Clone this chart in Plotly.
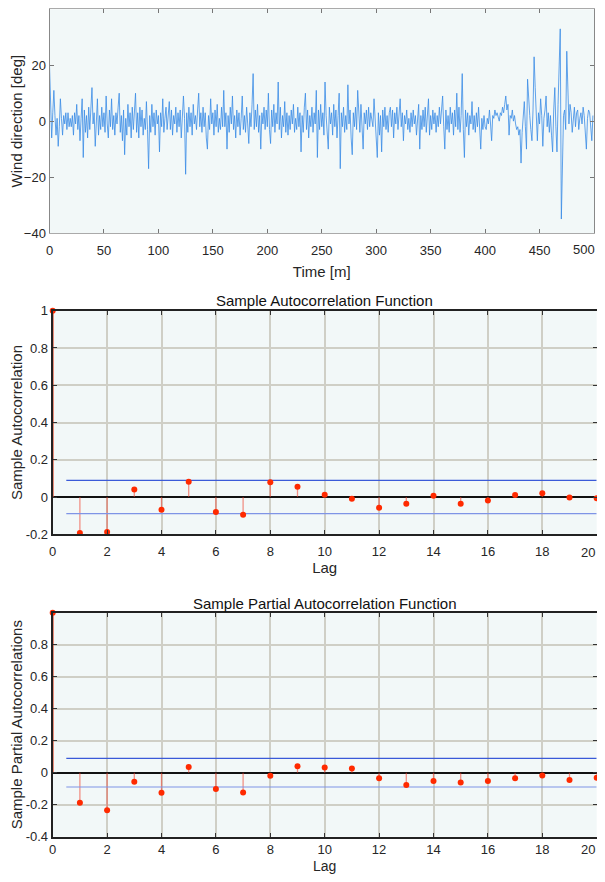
import plotly.graph_objects as go

# ---------------- data ----------------
wind_dir = [
    20, 4, -6, 3, 11, 2, -5, 1, -9, -2,
    8, 1, -5, 2, -1, 3, -3, 3, -2, 1,
    -2, 2, -5, 3, -1, 6, -3, 2, -7, 1,
    8, -13, 4, -4, 2, -6, 5, -3, 3, 12,
    -1, 3, -9, 1, 8, -5, 2, -3, 5, -2,
    3, -4, 9, -1, -6, 4, -2, 8, -3, 2,
    -5, 3, -1, 5, 10, -4, 2, -7, 4, -12,
    1, -5, 6, -2, 3, -6, 5, -3, 2, 10,
    -4, 3, -6, 5, -2, 4, -5, 1, -3, 7,
    -3, -17, 2, -4, 6, -2, 3, -5, 4, -1,
    2, -11, 3, -2, 8, -4, 1, 5, -3, 2,
    7, -3, 4, -5, 2, -1, 5, -4, 3, -2,
    4, -6, 2, 9, 1, -19, 3, -4, 5, -2,
    3, -5, 6, -1, 2, -3, 4, 10, -2, 3,
    -4, 5, -2, 3, -6, -10, 2, -3, 8, -1,
    3, -5, 4, -2, 6, -4, 1, -3, 5, -2,
    11, -2, 3, -10, 2, -4, 5, -1, 9, -3,
    2, -6, 4, -2, 3, -5, 1, 9, -3, 2,
    -4, 5, -1, -8, 3, -2, 6, 17, -3, 4,
    -2, 6, -4, 2, -10, 3, -1, 5, -3, 4,
    -2, 10, -3, -8, 4, -2, 6, -4, 3, -1,
    14, -3, 5, -6, 2, -2, 7, -4, 3, -5,
    2, -3, 4, -1, 6, -4, 1, -3, 5, -2,
    3, -11, 2, -4, 5, 10, -3, 4, -6, 2,
    -2, 5, -4, 3, -1, 11, -13, 4, -3, 6,
    -2, 3, -5, 14, 2, -4, -10, 5, -1, 3,
    -5, 6, -2, 4, -6, 2, 10, -17, 3, -2,
    5, -4, 2, -3, 13, -1, 4, -6, -12, 3,
    -2, 5, -3, 11, 2, -4, 6, -2, -10, 3,
    -1, 4, -3, 5, -2, 3, 1, -2, 8, 2,
    -4, -13, 3, -5, 2, -11, 4, -2, 5, -3,
    2, -4, 3, 5, -2, 4, -6, 3, -1, 5,
    -3, 4, 8, -2, 3, -7, 2, -1, 4, -3,
    1, -4, 3, -2, 4, -1, 2, -5, 3, 6,
    -10, 2, -3, 4, -2, 5, -4, 1, 8, -5,
    2, -3, 4, -1, 3, -4, 2, -2, 5, -1,
    3, 9, -2, -10, 4, -3, 2, -4, 5, -1,
    3, -5, 4, -2, 10, -3, 5, -4, 2, 17,
    -3, -13, 4, -2, 3, -5, 2, -1, 7, -3,
    2, -4, 3, -2, 5, -3, -10, 1, -3, 2,
    -2, -3, 1, -1, 4, -1, -7, 2, 1, 4,
    2, 3, 1, 0, 3, 2, 5, 3, 6, 9,
    4, 6, -5, 2, 1, 4, 0, 2, -1, -3,
    -2, -5, -3, -15, -4, 3, 7, -2, -10, 15,
    6, 2, -3, -7, 4, 23, 12, -2, -7, 3,
    -1, 8, 2, -9, 1, 4, 9, -2, 3, -4,
    2, -5, -11, 4, 12, -2, -11, 6, 18, 33,
    -35, -8, 2, 4, -3, 25, 9, -1, 6, 3,
    -4, 2, 5, -2, 3, 4, -3, 1, 3, -1,
    5, 2, -3, -10, 1, 4, 3, -2, -7, 2,
]
time_m = list(range(len(wind_dir)))

lags = list(range(21))
acf_vals = [1.0, -0.193, -0.188, 0.041, -0.068, 0.082, -0.080, -0.095, 0.079, 0.055,
            0.012, -0.009, -0.057, -0.036, 0.007, -0.036, -0.018, 0.011, 0.020, -0.002, -0.007]
pacf_vals = [1.0, -0.188, -0.235, -0.056, -0.125, 0.035, -0.102, -0.123, -0.019, 0.040,
             0.033, 0.027, -0.035, -0.077, -0.052, -0.062, -0.052, -0.035, -0.017, -0.046, -0.031]
conf_bound = 0.0894
bound_x = [0.5, 20]

top_xticks = [0, 50, 100, 150, 200, 250, 300, 350, 400, 450, 500]
top_xtext = ["0", "50", "100", "150", "200", "250", "300", "350", "400", "450", "500"]
top_yticks = [-40, -20, 0, 20, 40]
lag_ticks = [0, 2, 4, 6, 8, 10, 12, 14, 16, 18, 20]
lag_text = ["0", "2", "4", "6", "8", "10", "12", "14", "16", "18", "20"]
acf_yticks = [-0.2, 0, 0.2, 0.4, 0.6, 0.8, 1]
acf_ytext = ["-0.2", "0", "0.2", "0.4", "0.6", "0.8", "1"]
pacf_yticks = [-0.4, -0.2, 0, 0.2, 0.4, 0.6, 0.8]
pacf_ytext = ["-0.4", "-0.2", "0", "0.2", "0.4", "0.6", "0.8"]

# ---------------- figure ----------------
OFF = 8                      # page body margin offset
W, H = 605 - 2 * OFF, 882 - 2 * OFF
FONT = "Liberation Sans, Arial, sans-serif"
TXT = "#262626"
BG = "#f2f8f8"
GRID = "#cfcfc6"
RED = "#ff2a00"
STEM = "rgba(240,60,40,0.55)"
BLUE = "#3a5ad8"

fig = go.Figure()

# Top: time series
fig.add_trace(go.Scatter(x=time_m, y=wind_dir, mode="lines",
                         line=dict(color="#3a8ce6", width=0.8),
                         xaxis="x", yaxis="y", showlegend=False))

def add_stem(xa, ya, vals):
    sx, sy = [], []
    for l, v in zip(lags, vals):
        sx += [l, l, None]
        sy += [0, v, None]
    fig.add_trace(go.Scatter(x=sx, y=sy, mode="lines",
                             line=dict(color=STEM, width=1.3),
                             xaxis=xa, yaxis=ya, showlegend=False))
    fig.add_trace(go.Scatter(x=[lags[0], lags[0]], y=[0, vals[0]], mode="lines",
                             line=dict(color="#e04a2a", width=1.6),
                             cliponaxis=False,
                             xaxis=xa, yaxis=ya, showlegend=False))
    for b, col in [(conf_bound, BLUE), (-conf_bound, "#7f94e6")]:
        fig.add_trace(go.Scatter(x=bound_x, y=[b, b], mode="lines",
                                 line=dict(color=col, width=1.2),
                                 xaxis=xa, yaxis=ya, showlegend=False))
    fig.add_trace(go.Scatter(x=lags, y=vals, mode="markers",
                             marker=dict(color=RED, size=6),
                             cliponaxis=False,
                             xaxis=xa, yaxis=ya, showlegend=False))

add_stem("x2", "y2", acf_vals)
add_stem("x3", "y3", pacf_vals)

def px_x(p):
    return (p - OFF) / W

def px_y(p):
    return 1 - (p - OFF) / H

tickfont = dict(family=FONT, size=13, color=TXT)
titlefont = dict(family=FONT, size=15, color=TXT)

# last tick label of each x axis sits at the right page edge; draw it right-aligned
def edge_label(text, ypx):
    return dict(text=text, x=1.0, y=px_y(ypx), xref="paper", yref="paper",
                xanchor="right", yanchor="middle", showarrow=False,
                font=tickfont)

fig.update_layout(
    width=W, height=H,
    margin=dict(l=0, r=0, t=0, b=0, autoexpand=False),
    paper_bgcolor="white",
    plot_bgcolor=BG,
    font=dict(family=FONT, color=TXT),
    xaxis=dict(domain=[px_x(49.5), px_x(594)], anchor="y", range=[0, 500],
               tickvals=top_xticks, ticktext=top_xtext[:-1] + [""],
               ticks="inside", ticklen=4, tickcolor="#777",
               showgrid=False, zeroline=False, showline=True, linecolor="#aaa",
               linewidth=1, mirror="ticks", tickfont=tickfont, automargin=False,
               ticklabelstandoff=5,
               title=dict(text="Time [m]", font=titlefont, standoff=9)),
    yaxis=dict(domain=[px_y(233), px_y(9.3)], anchor="x", range=[-40, 40],
               tickvals=top_yticks, ticks="inside", ticklen=4, tickcolor="#777",
               showgrid=False, zeroline=False, showline=True, linecolor="#888",
               linewidth=1, mirror="ticks", tickfont=tickfont, automargin=False,
               title=dict(text="Wind direction [deg]", font=titlefont, standoff=7)),
    xaxis2=dict(domain=[px_x(52.7), px_x(596.7)], anchor="y2", range=[0, 20],
                tickvals=lag_ticks, ticktext=lag_text[:-1] + [""],
                ticks="inside", ticklen=4, tickcolor="#333",
                showgrid=True, gridcolor=GRID, gridwidth=2,
                zeroline=False, showline=True, linecolor="#222", linewidth=2,
                mirror="ticks", tickfont=tickfont, automargin=False,
                ticklabelstandoff=4,
                title=dict(text="Lag", font=titlefont, standoff=2)),
    yaxis2=dict(domain=[px_y(534.3), px_y(310.7)], anchor="x2", range=[-0.2, 1],
                tickvals=acf_yticks, ticktext=acf_ytext, ticks="inside", ticklen=4,
                tickcolor="#333", showgrid=True, gridcolor=GRID, gridwidth=2,
                zeroline=True, zerolinecolor="#111", zerolinewidth=2,
                showline=True, linecolor="#222", linewidth=2, mirror="ticks",
                tickfont=tickfont, automargin=False,
                title=dict(text="Sample Autocorrelation", font=titlefont, standoff=3)),
    xaxis3=dict(domain=[px_x(52.7), px_x(596.7)], anchor="y3", range=[0, 20],
                tickvals=lag_ticks, ticktext=lag_text[:-1] + [""],
                ticks="inside", ticklen=4, tickcolor="#333",
                showgrid=True, gridcolor=GRID, gridwidth=2,
                zeroline=False, showline=True, linecolor="#222", linewidth=2,
                mirror="ticks", tickfont=tickfont, automargin=False,
                ticklabelstandoff=0,
                title=dict(text="Lag", font=dict(family=FONT, size=14, color=TXT),
                           standoff=6)),
    yaxis3=dict(domain=[px_y(836.7), px_y(612.7)], anchor="x3", range=[-0.4, 1],
                tickvals=pacf_yticks, ticktext=pacf_ytext, ticks="inside", ticklen=4,
                tickcolor="#333", showgrid=True, gridcolor=GRID, gridwidth=2,
                zeroline=True, zerolinecolor="#111", zerolinewidth=1.6,
                showline=True, linecolor="#222", linewidth=2, mirror="ticks",
                tickfont=tickfont, automargin=False,
                title=dict(text="Sample Partial Autocorrelations", font=titlefont, standoff=1)),
    annotations=[
        dict(text="Sample Autocorrelation Function", x=px_x(324.7), y=px_y(300),
             xref="paper", yref="paper", showarrow=False,
             font=dict(family=FONT, size=15, color="#111"), yanchor="middle"),
        dict(text="Sample Partial Autocorrelation Function", x=px_x(324.7), y=px_y(603),
             xref="paper", yref="paper", showarrow=False,
             font=dict(family=FONT, size=15, color="#111"), yanchor="middle"),
        edge_label(top_xtext[-1], 250),
        edge_label(lag_text[-1], 552),
        edge_label(lag_text[-1], 849),
    ],
)

fig.write_html("out.html")
